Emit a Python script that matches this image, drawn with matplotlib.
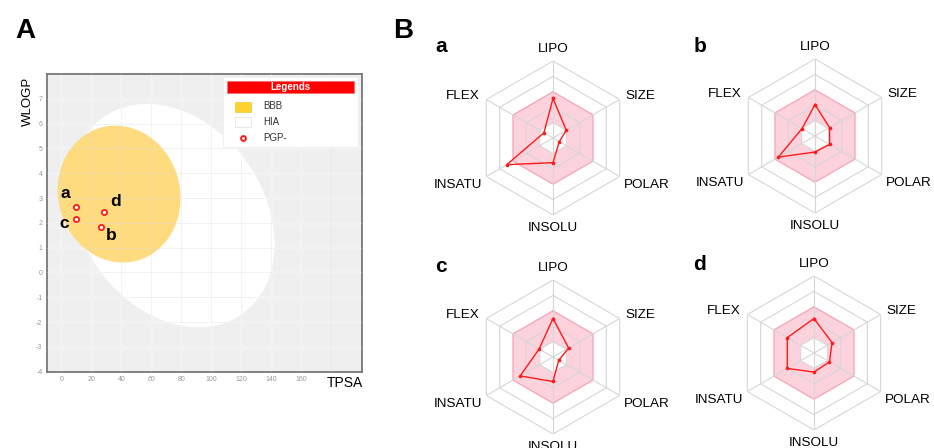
import numpy as np
import matplotlib.pyplot as plt
from matplotlib.patches import Rectangle

plt.rcParams['font.family'] = ['Liberation Sans', 'DejaVu Sans']
plt.rcParams['axes.unicode_minus'] = False

# ---- panel A: BOILED-Egg (TPSA vs WLOGP) ----
compounds = ['a', 'b', 'c', 'd']
tpsa = [9.8, 26.7, 9.8, 28.2]
wlogp = [2.62, 1.84, 2.14, 2.44]

x_ticks = list(range(0, 161, 20))
y_ticks = list(range(-4, 8))

# egg regions: centre (data), semi axes (px), tilt (deg)
hia_center, hia_axes, hia_angle = (74.3, 2.29), (120.4, 91.4), -55.0
bbb_center, bbb_axes, bbb_angle = (38.5, 3.16), (68.9, 60.9), -75.5

# ---- panel B: bioavailability radars ----
radar_names = ['LIPO', 'SIZE', 'POLAR', 'INSOLU', 'INSATU', 'FLEX']
radar_a = [2.57, 1.00, 0.47, 1.60, 3.47, 0.68]
radar_b = [2.04, 1.09, 1.10, 1.04, 2.75, 0.97]
radar_c = [2.50, 1.17, 0.43, 1.59, 2.46, 1.04]
radar_d = [2.24, 1.35, 1.16, 1.24, 2.00, 2.00]
radar_data = {'a': radar_a, 'b': radar_b, 'c': radar_c, 'd': radar_d}

W, H = 934, 448
fig = plt.figure(figsize=(W / 100, H / 100), dpi=100)

# ---------------- panel A ----------------
axA_pos = [0.05, 0.1703, 0.3373, 0.6645]
axA = fig.add_axes(axA_pos)
xlim = (-9.8, 200.4)
ylim = (-4, 8)
axA.set_xlim(*xlim)
axA.set_ylim(*ylim)
axA.set_facecolor('#efefef')

sx = W * axA_pos[2] / (xlim[1] - xlim[0])
sy = H * axA_pos[3] / (ylim[1] - ylim[0])


def ellipse_xy(center, semi, ang):
    t = np.linspace(0, 2 * np.pi, 300)
    phi = np.deg2rad(ang)
    a, b = semi
    dx = a * np.cos(t) * np.cos(phi) - b * np.sin(t) * np.sin(phi)
    dy = a * np.cos(t) * np.sin(phi) + b * np.sin(t) * np.cos(phi)
    return center[0] + dx / sx, center[1] + dy / sy


axA.set_xticks(x_ticks)
axA.set_yticks(y_ticks)
axA.grid(True, color='white', lw=1.0, zorder=0)
axA.set_axisbelow(True)

ex, ey = ellipse_xy(hia_center, hia_axes, hia_angle)
axA.fill(ex, ey, color='white', lw=0, zorder=1)
ex, ey = ellipse_xy(bbb_center, bbb_axes, bbb_angle)
axA.fill(ex, ey, color='#ffdb80', lw=0, zorder=2)

# faint grid over the egg
for xv in x_ticks + [180]:
    axA.axvline(xv, color='#dddddd', lw=0.6, alpha=0.45, zorder=3)
for yv in y_ticks:
    axA.axhline(yv, color='#dddddd', lw=0.6, alpha=0.45, zorder=3)

axA.scatter(tpsa, wlogp, s=14, facecolor='white', edgecolor='#ff1a1a',
            linewidth=1.3, zorder=5)
label_offsets = {'a': (-7.7, 10.4), 'b': (7.2, -6.3), 'c': (-8.4, -3.1), 'd': (8.4, 7.6)}
for name, xv, yv in zip(compounds, tpsa, wlogp):
    axA.annotate(name, (xv, yv), xytext=label_offsets[name], textcoords='offset points',
                 ha='center', va='center', fontsize=12.5, fontweight='bold', zorder=6)

for sp in axA.spines.values():
    sp.set_color('#777777')
    sp.set_linewidth(1.3)
axA.tick_params(labelsize=5, colors='#999999', length=0, pad=3)

fig.text(27.5 / W, 1 - 101 / H, 'WLOGP', rotation=90, ha='center', va='center', fontsize=9.5)
fig.text(345 / W, 1 - 383 / H, 'TPSA', ha='center', va='center', fontsize=10)

# legend box
axA.add_patch(Rectangle((0.559, 0.756), 0.43, 0.233, transform=axA.transAxes,
                        facecolor='white', edgecolor='#eeeeee', lw=0.6, zorder=7))
axA.add_patch(Rectangle((0.573, 0.935), 0.404, 0.043, transform=axA.transAxes,
                        facecolor='#ff0000', edgecolor='#ff6666', lw=0.5, zorder=8))
axA.text(0.775, 0.957, 'Legends', transform=axA.transAxes, ha='center', va='center',
         color='white', fontsize=7, fontweight='bold', zorder=9)
axA.add_patch(Rectangle((0.598, 0.873), 0.05, 0.034, transform=axA.transAxes,
                        facecolor='#fdd22e', edgecolor='#f0c020', lw=0.4, zorder=8))
axA.add_patch(Rectangle((0.598, 0.823), 0.05, 0.034, transform=axA.transAxes,
                        facecolor='white', edgecolor='#dddddd', lw=0.5, zorder=8))
axA.scatter([0.623], [0.786], s=12, facecolor='white', edgecolor='#ff1a1a', linewidth=1.4,
            transform=axA.transAxes, zorder=9, clip_on=False)
for txt, yy in zip(['BBB', 'HIA', 'PGP-'], [0.891, 0.840, 0.786]):
    axA.text(0.687, yy, txt, transform=axA.transAxes, ha='left', va='center',
             fontsize=7, color='#333333', zorder=9)

# ---------------- panel B ----------------
theta = np.deg2rad(np.arange(6) * 60.0)
theta_c = np.append(theta, theta[0])
rad_px = 77
centers = {'a': (553, 138), 'b': (815, 136), 'c': (553, 357), 'd': (814, 353)}

label_pos = [
    (5.42, 'center', 'bottom'),
    (5.45, 'left', 'center'),
    (5.3, 'left', 'top'),
    (5.45, 'center', 'top'),
    (5.3, 'right', 'top'),
    (5.5, 'right', 'center'),
]

for key, vals in radar_data.items():
    cx, cy = centers[key]
    ax = fig.add_axes([(cx - rad_px) / W, 1 - (cy + rad_px) / H, 2 * rad_px / W, 2 * rad_px / H],
                      projection='polar')
    ax.set_theta_offset(np.pi / 2)
    ax.set_theta_direction(-1)
    ax.set_ylim(0, 5)
    ax.set_axis_off()

    ax.fill(theta_c, [3] * 7, color='#fcd2dc', lw=0, zorder=1)
    ax.fill(theta_c, [1] * 7, color='white', lw=0, zorder=1)
    for r in [1, 2, 4, 5]:
        ax.plot(theta_c, [r] * 7, color='#d6d6d6', lw=0.8, zorder=2)
    ax.plot(theta_c, [3] * 7, color='#f6a3b5', lw=0.9, zorder=2)
    for t in theta:
        ax.plot([t, t], [0, 5], color='#d6d6d6', lw=0.8, zorder=2)

    v = np.append(vals, vals[0])
    ax.plot(theta_c, v, color='#ff1a1a', lw=1.0, marker='o', ms=1.6, zorder=4)

    for t, name, (r, ha, va) in zip(theta, radar_names, label_pos):
        ax.text(t, r, name, ha=ha, va=va, fontsize=9.7, clip_on=False)

letter_pos = {'a': (441, 47), 'b': (700, 46), 'c': (441, 266), 'd': (700, 264)}
for key, (lx, ly) in letter_pos.items():
    fig.text(lx / W, 1 - ly / H, key, ha='center', va='center', fontsize=15, fontweight='bold')

fig.text(25 / W, 1 - 31 / H, 'A', ha='center', va='center', fontsize=20, fontweight='bold')
fig.text(403 / W, 1 - 31 / H, 'B', ha='center', va='center', fontsize=20, fontweight='bold')

fig.savefig('out.png', dpi=100)
